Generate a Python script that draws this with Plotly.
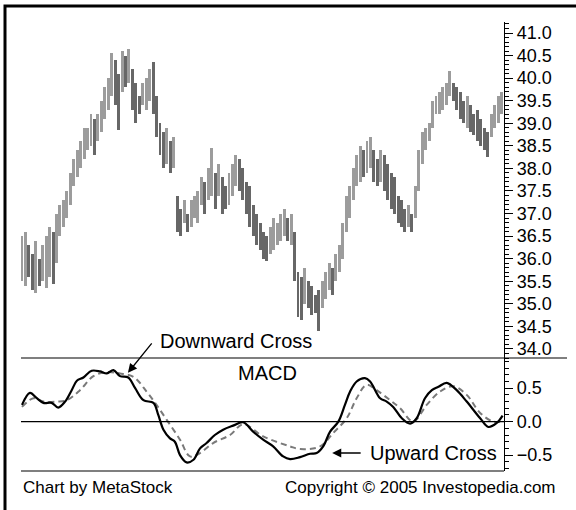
import plotly.graph_objects as go

# daily price bars (high / low), one per trading day
price_high = [
    36.5, 36.6, 36.3, 36.1, 36.4, 36.0, 36.3, 36.5, 36.7, 36.6,
    37.0, 37.2, 37.3, 37.5, 37.9, 38.2, 38.4, 38.6, 38.9, 38.9,
    39.2, 39.1, 39.2, 39.5, 39.8, 40.0, 40.55, 40.4, 40.1, 40.6,
    40.5, 40.65, 40.2, 39.9, 39.6, 39.9, 40.0, 40.2, 40.35, 39.6,
    39.0, 38.8, 38.9, 38.6, 38.7, 37.4, 37.1, 37.3, 37.0, 37.3,
    37.4, 37.5, 37.8, 37.7, 38.0, 38.45, 37.9, 38.1, 37.8, 37.6,
    37.9, 38.1, 38.3, 38.2, 38.0, 37.7, 37.6, 37.2, 37.0, 36.8,
    36.6, 36.5, 36.7, 36.9, 36.8, 37.0, 37.1, 36.9, 37.0, 36.6,
    35.7, 35.6, 35.8, 35.5, 35.4, 35.2, 35.3, 35.5, 35.7, 35.9,
    35.8, 36.1, 36.3, 36.8, 37.4, 37.6, 38.0, 38.3, 38.5, 38.4,
    38.6, 38.7, 38.4, 38.2, 38.4, 38.3, 38.1, 37.9, 37.8, 37.4,
    37.3, 37.1, 37.2, 37.0, 37.6, 38.4, 38.8, 38.9, 39.0, 39.5,
    39.6, 39.7, 39.8, 39.9, 40.15, 39.9, 39.8, 39.7, 39.5, 39.6,
    39.4, 39.2, 39.3, 39.1, 38.9, 38.8, 39.2, 39.4, 39.6, 39.7,
]
price_low = [
    35.5, 35.4, 35.6, 35.3, 35.25, 35.4, 35.5, 35.35, 35.6, 35.45,
    35.9, 36.5, 36.7, 36.9, 37.2, 37.6, 37.8, 38.0, 38.2, 38.4,
    38.5, 38.3, 38.6, 38.8, 39.1, 39.3, 39.6, 39.4, 38.85, 39.7,
    39.8, 39.9, 39.3, 39.0, 39.2, 39.4, 39.3, 39.5, 39.2, 38.7,
    38.3, 38.0, 38.1, 37.9, 38.0, 36.6, 36.5, 36.8, 36.6, 36.7,
    36.9, 36.8, 37.2, 37.0, 37.3, 37.4, 37.1, 37.4, 37.0, 37.1,
    37.2, 37.4, 37.6, 37.5, 37.3, 37.0, 36.7, 36.5, 36.3, 36.2,
    36.0, 35.95, 36.1, 36.2, 36.3, 36.4, 36.5, 36.4, 36.3, 35.5,
    34.7, 34.65, 35.0, 34.9, 34.75, 34.8, 34.4, 34.9, 35.1, 35.3,
    35.2, 35.5, 35.7, 36.0, 36.6, 36.9, 37.3, 37.6, 37.7, 37.8,
    37.9, 38.0, 37.7, 37.6, 37.7, 37.5, 37.3, 37.1, 37.0, 36.8,
    36.7, 36.6, 36.7, 36.6, 36.9, 37.5, 38.1, 38.4, 38.6, 38.9,
    39.2, 39.2, 39.3, 39.4, 39.6, 39.5, 39.3, 39.1, 39.0, 38.9,
    38.8, 38.75, 38.6, 38.5, 38.4, 38.25, 38.7, 38.9, 39.0, 39.2,
]
days = list(range(len(price_high)))

# MACD and signal line, read at day positions
macd_day = [0, 2.3, 4.3, 6.2, 8.6, 10.5, 12.5, 14.4, 15.9, 17.8, 20.2, 22.6,
            24.6, 26.5, 28.4, 30.8, 32.8, 35.2, 38.1, 39.5, 41.0, 42.9, 44.3,
            45.8, 47.7, 49.7, 51.6, 53.5, 55.9, 58.3, 61.2, 64.1, 67.0, 69.9,
            72.8, 75.7, 77.7, 80.6, 83.5, 85.4, 87.3, 89.3, 91.7, 93.6, 95.1,
            97.0, 99.4, 100.9, 103.8, 105.7, 107.6, 110.1, 112.5, 114.4,
            116.8, 118.8, 120.7, 123.1, 126.0, 128.9, 132.8, 135.2, 137.6,
            139.3]
macd_val = [0.25, 0.43, 0.35, 0.28, 0.28, 0.21, 0.30, 0.47, 0.61, 0.66, 0.76,
            0.75, 0.72, 0.77, 0.68, 0.66, 0.50, 0.32, 0.28, 0.10, -0.12, -0.25,
            -0.30, -0.50, -0.61, -0.57, -0.40, -0.32, -0.20, -0.12, -0.06,
            -0.01, -0.15, -0.27, -0.37, -0.52, -0.56, -0.53, -0.48, -0.47,
            -0.37, -0.15, 0.00, 0.25, 0.45, 0.60, 0.65, 0.60, 0.35, 0.30, 0.22,
            0.05, -0.03, 0.05, 0.35, 0.47, 0.52, 0.58, 0.47, 0.30, 0.05, -0.08,
            -0.02, 0.09]
signal_day = [0, 3.3, 6.2, 10.1, 13.0, 16.8, 20.7, 24.6, 28.4, 32.3, 36.1,
              39.0, 41.9, 45.8, 48.7, 51.6, 55.4, 60.3, 64.1, 69.9, 77.7, 80.6,
              86.4, 90.2, 94.1, 97.0, 99.9, 102.8, 106.7, 109.6, 113.4, 117.3,
              121.2, 125.0, 128.9, 132.8, 136.6, 139.3]
signal_val = [0.22, 0.35, 0.30, 0.30, 0.32, 0.47, 0.68, 0.74, 0.72, 0.67, 0.45,
              0.25, 0.03, -0.27, -0.52, -0.47, -0.32, -0.20, -0.04, -0.22,
              -0.37, -0.41, -0.37, -0.17, 0.05, 0.35, 0.55, 0.47, 0.32, 0.20,
              0.0, 0.25, 0.45, 0.53, 0.40, 0.13, 0.0, 0.0]

LIGHT = "#9c9c9c"
DARK = "#676767"
FONT = "Liberation Sans, Arial, sans-serif"

# up days light grey, down days dark grey
mids = [(h + l) / 2 for h, l in zip(price_high, price_low)]
bar_colors = [LIGHT] + [LIGHT if mids[i] >= mids[i - 1] else DARK
                        for i in range(1, len(mids))]

fig = go.Figure()
fig.add_trace(go.Bar(
    x=days,
    y=[h - l for h, l in zip(price_high, price_low)],
    base=price_low,
    width=0.85,
    marker=dict(color=bar_colors, line=dict(width=0)),
    xaxis="x", yaxis="y",
    showlegend=False,
))
fig.add_trace(go.Scatter(
    x=signal_day, y=signal_val, mode="lines",
    line=dict(color="#7a7a7a", width=2, dash="6px,4px", shape="spline"),
    xaxis="x", yaxis="y2", showlegend=False,
))
fig.add_trace(go.Scatter(
    x=macd_day, y=macd_val, mode="lines",
    line=dict(color="black", width=2.2, shape="spline"),
    xaxis="x", yaxis="y2", showlegend=False,
))

split = 113 / 449  # price / MACD boundary in paper units

axis_common = dict(
    side="right", anchor="x", showgrid=False, zeroline=False,
    showline=True, linecolor="black", linewidth=1.3,
    ticks="outside", ticklen=8, tickwidth=1.2, tickcolor="black",
    tickfont=dict(family=FONT, size=18, color="black"),
    tickformat=".1f", dtick=0.5,
    minor=dict(dtick=0.1, ticks="outside", ticklen=4, tickwidth=1,
               tickcolor="black"),
)

fig.update_layout(
    width=576, height=510,
    margin=dict(l=21, r=72, t=22, b=39),
    paper_bgcolor="white", plot_bgcolor="white",
    font=dict(family=FONT, color="black"),
    bargap=0,
    xaxis=dict(domain=[0, 1], range=[-0.29, 139.71], visible=False),
    yaxis=dict(domain=[split, 1], range=[33.8, 41.244], tick0=34, **axis_common),
    yaxis2=dict(domain=[0, split], range=[-0.738, 0.951], tick0=0, **axis_common),
    shapes=[
        # outer frame (cropped on right and bottom)
        dict(type="rect", xref="paper", yref="paper",
             x0=-16 / 483, x1=1.25, y0=-0.15, y1=465 / 449,
             line=dict(color="black", width=3)),
        # panel separator, runs under the price labels
        dict(type="line", xref="paper", yref="paper",
             x0=0, x1=546 / 483, y0=split, y1=split,
             line=dict(color="black", width=1.2)),
        # MACD zero line
        dict(type="line", xref="paper", yref="y2",
             x0=0, x1=1, y0=0, y1=0,
             line=dict(color="black", width=1.2)),
        # bottom of MACD panel
        dict(type="line", xref="paper", yref="paper",
             x0=0, x1=1, y0=0, y1=0,
             line=dict(color="black", width=1.2)),
    ],
    annotations=[
        dict(x=30.7, y=0.729, xref="x", yref="y2", text="",
             showarrow=True, ax=25, ay=-31, arrowhead=2, arrowsize=1.4,
             arrowwidth=1.3, arrowcolor="black"),
        dict(x=137 / 483, y=130 / 449, xref="paper", yref="paper",
             text="Downward Cross", showarrow=False, xanchor="left",
             yanchor="middle", font=dict(size=20)),
        dict(x=246 / 483, y=98 / 449, xref="paper", yref="paper",
             text="MACD", showarrow=False, xanchor="center",
             yanchor="middle", font=dict(size=20)),
        dict(x=89.9, y=-0.469, xref="x", yref="y2", text="",
             showarrow=True, ax=30, ay=0, arrowhead=2, arrowsize=1.4,
             arrowwidth=1.3, arrowcolor="black"),
        dict(x=347 / 483, y=18 / 449, xref="paper", yref="paper",
             text="Upward Cross", showarrow=False, xanchor="left",
             yanchor="middle", font=dict(size=20)),
        dict(x=0, y=-16 / 449, xref="paper", yref="paper",
             text="Chart by MetaStock", showarrow=False, xanchor="left",
             yanchor="middle", font=dict(size=17)),
        dict(x=537 / 483, y=-16 / 449, xref="paper", yref="paper",
             text="Copyright © 2005 Investopedia.com", showarrow=False,
             xanchor="right", yanchor="middle", font=dict(size=17)),
    ],
)

# drop the browser's default 8px body margin so the figure sits at 0,0
fig.write_html("out.html", config={"displayModeBar": False},
               post_script="document.body.style.margin = '0';")
